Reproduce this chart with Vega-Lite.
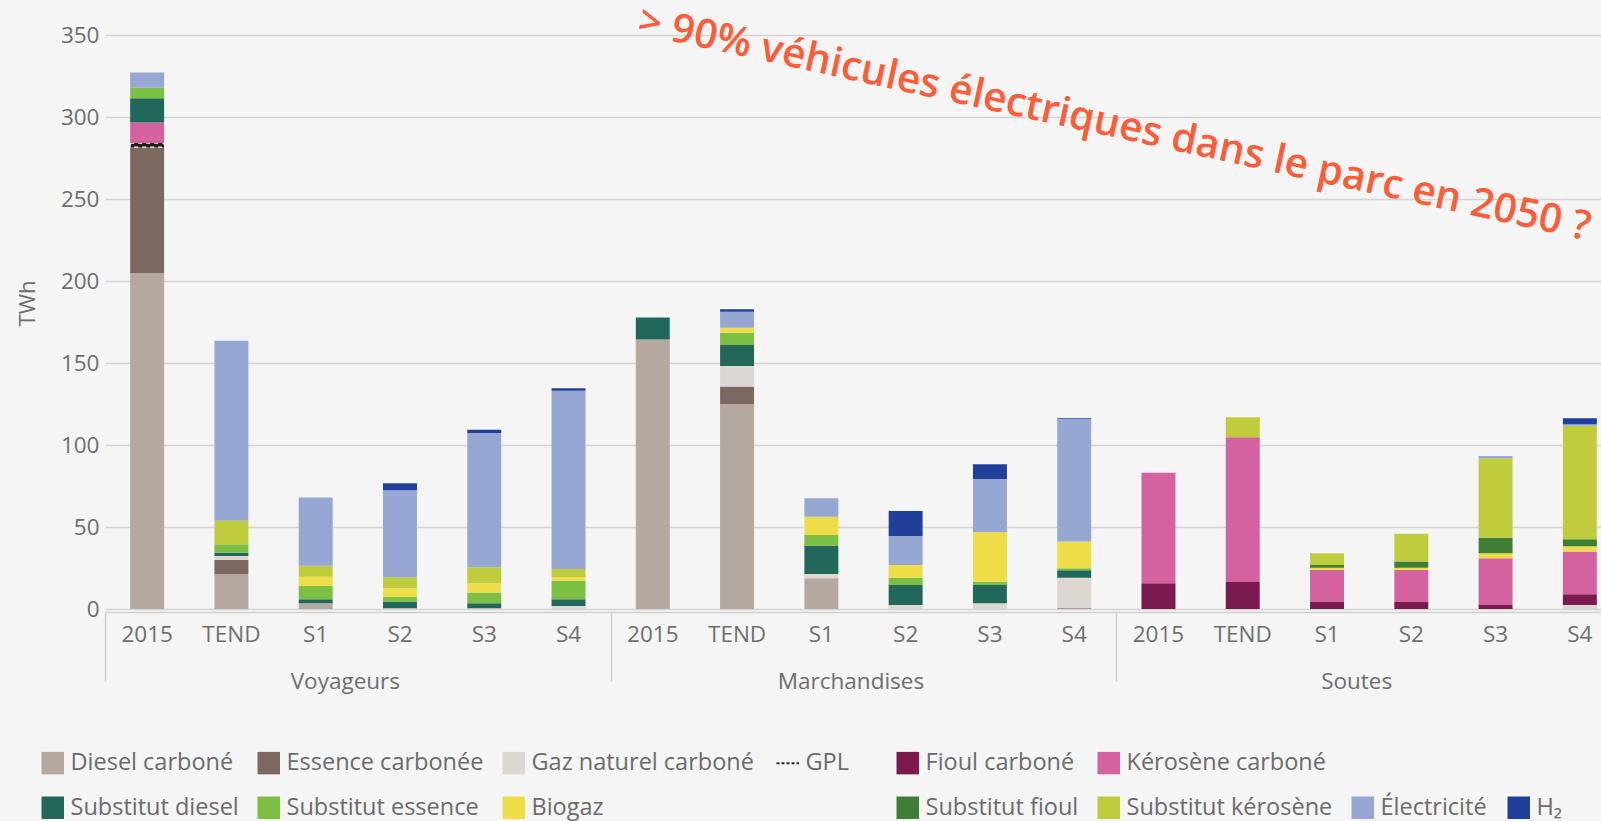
{
  "$schema": "https://vega.github.io/schema/vega-lite/v6.json",
  "width": 1496,
  "height": 574,
  "autosize": {"type": "none"},
  "padding": {"left": 105, "top": 35, "right": 0, "bottom": 212},
  "background": "#f5f5f5",
  "config": {
    "view": {"stroke": null},
    "axis": {"labelFont": "Open Sans", "titleFont": "Open Sans", "labelColor": "#6e6e6e", "titleColor": "#6e6e6e"},
    "legend": {"labelFont": "Open Sans"}
  },
  "data": {
    "values": [
      {"groupe": "Voyageurs", "cle": "Voyageurs|2015", "energie": "Diesel carboné", "twh": 204.7},
      {"groupe": "Voyageurs", "cle": "Voyageurs|2015", "energie": "Essence carbonée", "twh": 76.9},
      {"groupe": "Voyageurs", "cle": "Voyageurs|2015", "energie": "GPL", "twh": 2.5},
      {"groupe": "Voyageurs", "cle": "Voyageurs|2015", "energie": "Kérosène carboné", "twh": 12.5},
      {"groupe": "Voyageurs", "cle": "Voyageurs|2015", "energie": "Substitut diesel", "twh": 14.9},
      {"groupe": "Voyageurs", "cle": "Voyageurs|2015", "energie": "Substitut essence", "twh": 6.3},
      {"groupe": "Voyageurs", "cle": "Voyageurs|2015", "energie": "Électricité", "twh": 9.4},

      {"groupe": "Voyageurs", "cle": "Voyageurs|TEND", "energie": "Diesel carboné", "twh": 21.3},
      {"groupe": "Voyageurs", "cle": "Voyageurs|TEND", "energie": "Essence carbonée", "twh": 8.6},
      {"groupe": "Voyageurs", "cle": "Voyageurs|TEND", "energie": "Gaz naturel carboné", "twh": 2.4},
      {"groupe": "Voyageurs", "cle": "Voyageurs|TEND", "energie": "Substitut diesel", "twh": 2.0},
      {"groupe": "Voyageurs", "cle": "Voyageurs|TEND", "energie": "Substitut essence", "twh": 5.2},
      {"groupe": "Voyageurs", "cle": "Voyageurs|TEND", "energie": "Substitut kérosène", "twh": 14.3},
      {"groupe": "Voyageurs", "cle": "Voyageurs|TEND", "energie": "Électricité", "twh": 109.7},

      {"groupe": "Voyageurs", "cle": "Voyageurs|S1", "energie": "Diesel carboné", "twh": 3.5},
      {"groupe": "Voyageurs", "cle": "Voyageurs|S1", "energie": "Substitut diesel", "twh": 2.4},
      {"groupe": "Voyageurs", "cle": "Voyageurs|S1", "energie": "Substitut essence", "twh": 8.1},
      {"groupe": "Voyageurs", "cle": "Voyageurs|S1", "energie": "Biogaz", "twh": 5.7},
      {"groupe": "Voyageurs", "cle": "Voyageurs|S1", "energie": "Substitut kérosène", "twh": 6.7},
      {"groupe": "Voyageurs", "cle": "Voyageurs|S1", "energie": "Électricité", "twh": 41.6},

      {"groupe": "Voyageurs", "cle": "Voyageurs|S2", "energie": "Gaz naturel carboné", "twh": 0.4},
      {"groupe": "Voyageurs", "cle": "Voyageurs|S2", "energie": "Substitut diesel", "twh": 4.0},
      {"groupe": "Voyageurs", "cle": "Voyageurs|S2", "energie": "Substitut essence", "twh": 3.1},
      {"groupe": "Voyageurs", "cle": "Voyageurs|S2", "energie": "Biogaz", "twh": 5.1},
      {"groupe": "Voyageurs", "cle": "Voyageurs|S2", "energie": "Substitut kérosène", "twh": 6.7},
      {"groupe": "Voyageurs", "cle": "Voyageurs|S2", "energie": "Électricité", "twh": 53.1},
      {"groupe": "Voyageurs", "cle": "Voyageurs|S2", "energie": "H₂", "twh": 4.3},

      {"groupe": "Voyageurs", "cle": "Voyageurs|S3", "energie": "Gaz naturel carboné", "twh": 0.5},
      {"groupe": "Voyageurs", "cle": "Voyageurs|S3", "energie": "Substitut diesel", "twh": 3.0},
      {"groupe": "Voyageurs", "cle": "Voyageurs|S3", "energie": "Substitut essence", "twh": 6.4},
      {"groupe": "Voyageurs", "cle": "Voyageurs|S3", "energie": "Biogaz", "twh": 5.8},
      {"groupe": "Voyageurs", "cle": "Voyageurs|S3", "energie": "Substitut kérosène", "twh": 9.7},
      {"groupe": "Voyageurs", "cle": "Voyageurs|S3", "energie": "Électricité", "twh": 81.9},
      {"groupe": "Voyageurs", "cle": "Voyageurs|S3", "energie": "H₂", "twh": 2.0},

      {"groupe": "Voyageurs", "cle": "Voyageurs|S4", "energie": "Gaz naturel carboné", "twh": 1.8},
      {"groupe": "Voyageurs", "cle": "Voyageurs|S4", "energie": "Substitut diesel", "twh": 4.1},
      {"groupe": "Voyageurs", "cle": "Voyageurs|S4", "energie": "Substitut essence", "twh": 11.4},
      {"groupe": "Voyageurs", "cle": "Voyageurs|S4", "energie": "Biogaz", "twh": 2.0},
      {"groupe": "Voyageurs", "cle": "Voyageurs|S4", "energie": "Substitut kérosène", "twh": 5.1},
      {"groupe": "Voyageurs", "cle": "Voyageurs|S4", "energie": "Électricité", "twh": 108.7},
      {"groupe": "Voyageurs", "cle": "Voyageurs|S4", "energie": "H₂", "twh": 1.5},

      {"groupe": "Marchandises", "cle": "Marchandises|2015", "energie": "Diesel carboné", "twh": 164.4},
      {"groupe": "Marchandises", "cle": "Marchandises|2015", "energie": "Substitut diesel", "twh": 13.4},

      {"groupe": "Marchandises", "cle": "Marchandises|TEND", "energie": "Diesel carboné", "twh": 124.8},
      {"groupe": "Marchandises", "cle": "Marchandises|TEND", "energie": "Essence carbonée", "twh": 10.8},
      {"groupe": "Marchandises", "cle": "Marchandises|TEND", "energie": "Gaz naturel carboné", "twh": 12.6},
      {"groupe": "Marchandises", "cle": "Marchandises|TEND", "energie": "Substitut diesel", "twh": 12.8},
      {"groupe": "Marchandises", "cle": "Marchandises|TEND", "energie": "Substitut essence", "twh": 7.5},
      {"groupe": "Marchandises", "cle": "Marchandises|TEND", "energie": "Biogaz", "twh": 3.0},
      {"groupe": "Marchandises", "cle": "Marchandises|TEND", "energie": "Électricité", "twh": 9.8},
      {"groupe": "Marchandises", "cle": "Marchandises|TEND", "energie": "H₂", "twh": 1.4},

      {"groupe": "Marchandises", "cle": "Marchandises|S1", "energie": "Diesel carboné", "twh": 18.7},
      {"groupe": "Marchandises", "cle": "Marchandises|S1", "energie": "Gaz naturel carboné", "twh": 2.6},
      {"groupe": "Marchandises", "cle": "Marchandises|S1", "energie": "Substitut diesel", "twh": 17.3},
      {"groupe": "Marchandises", "cle": "Marchandises|S1", "energie": "Substitut essence", "twh": 6.5},
      {"groupe": "Marchandises", "cle": "Marchandises|S1", "energie": "Biogaz", "twh": 11.2},
      {"groupe": "Marchandises", "cle": "Marchandises|S1", "energie": "Électricité", "twh": 11.2},

      {"groupe": "Marchandises", "cle": "Marchandises|S2", "energie": "Gaz naturel carboné", "twh": 2.4},
      {"groupe": "Marchandises", "cle": "Marchandises|S2", "energie": "Substitut diesel", "twh": 12.2},
      {"groupe": "Marchandises", "cle": "Marchandises|S2", "energie": "Substitut essence", "twh": 4.5},
      {"groupe": "Marchandises", "cle": "Marchandises|S2", "energie": "Biogaz", "twh": 7.7},
      {"groupe": "Marchandises", "cle": "Marchandises|S2", "energie": "Électricité", "twh": 17.7},
      {"groupe": "Marchandises", "cle": "Marchandises|S2", "energie": "H₂", "twh": 15.3},

      {"groupe": "Marchandises", "cle": "Marchandises|S3", "energie": "Gaz naturel carboné", "twh": 3.5},
      {"groupe": "Marchandises", "cle": "Marchandises|S3", "energie": "Substitut diesel", "twh": 11.1},
      {"groupe": "Marchandises", "cle": "Marchandises|S3", "energie": "Substitut essence", "twh": 2.1},
      {"groupe": "Marchandises", "cle": "Marchandises|S3", "energie": "Biogaz", "twh": 30.1},
      {"groupe": "Marchandises", "cle": "Marchandises|S3", "energie": "Électricité", "twh": 32.5},
      {"groupe": "Marchandises", "cle": "Marchandises|S3", "energie": "H₂", "twh": 8.9},

      {"groupe": "Marchandises", "cle": "Marchandises|S4", "energie": "Essence carbonée", "twh": 0.5},
      {"groupe": "Marchandises", "cle": "Marchandises|S4", "energie": "Gaz naturel carboné", "twh": 18.6},
      {"groupe": "Marchandises", "cle": "Marchandises|S4", "energie": "Substitut diesel", "twh": 4.5},
      {"groupe": "Marchandises", "cle": "Marchandises|S4", "energie": "Substitut essence", "twh": 1.2},
      {"groupe": "Marchandises", "cle": "Marchandises|S4", "energie": "Biogaz", "twh": 16.3},
      {"groupe": "Marchandises", "cle": "Marchandises|S4", "energie": "Électricité", "twh": 74.7},
      {"groupe": "Marchandises", "cle": "Marchandises|S4", "energie": "H₂", "twh": 0.5},

      {"groupe": "Soutes", "cle": "Soutes|2015", "energie": "Fioul carboné", "twh": 15.7},
      {"groupe": "Soutes", "cle": "Soutes|2015", "energie": "Kérosène carboné", "twh": 67.4},

      {"groupe": "Soutes", "cle": "Soutes|TEND", "energie": "Fioul carboné", "twh": 16.5},
      {"groupe": "Soutes", "cle": "Soutes|TEND", "energie": "Kérosène carboné", "twh": 88.2},
      {"groupe": "Soutes", "cle": "Soutes|TEND", "energie": "Substitut kérosène", "twh": 12.2},

      {"groupe": "Soutes", "cle": "Soutes|S1", "energie": "Fioul carboné", "twh": 4.5},
      {"groupe": "Soutes", "cle": "Soutes|S1", "energie": "Kérosène carboné", "twh": 19.3},
      {"groupe": "Soutes", "cle": "Soutes|S1", "energie": "Biogaz", "twh": 1.4},
      {"groupe": "Soutes", "cle": "Soutes|S1", "energie": "Substitut fioul", "twh": 1.6},
      {"groupe": "Soutes", "cle": "Soutes|S1", "energie": "Substitut kérosène", "twh": 7.2},

      {"groupe": "Soutes", "cle": "Soutes|S2", "energie": "Fioul carboné", "twh": 4.5},
      {"groupe": "Soutes", "cle": "Soutes|S2", "energie": "Kérosène carboné", "twh": 19.3},
      {"groupe": "Soutes", "cle": "Soutes|S2", "energie": "Biogaz", "twh": 1.4},
      {"groupe": "Soutes", "cle": "Soutes|S2", "energie": "Substitut fioul", "twh": 3.7},
      {"groupe": "Soutes", "cle": "Soutes|S2", "energie": "Substitut kérosène", "twh": 17.0},

      {"groupe": "Soutes", "cle": "Soutes|S3", "energie": "Fioul carboné", "twh": 2.4},
      {"groupe": "Soutes", "cle": "Soutes|S3", "energie": "Kérosène carboné", "twh": 28.5},
      {"groupe": "Soutes", "cle": "Soutes|S3", "energie": "Biogaz", "twh": 3.1},
      {"groupe": "Soutes", "cle": "Soutes|S3", "energie": "Substitut fioul", "twh": 9.5},
      {"groupe": "Soutes", "cle": "Soutes|S3", "energie": "Substitut kérosène", "twh": 48.4},
      {"groupe": "Soutes", "cle": "Soutes|S3", "energie": "Électricité", "twh": 1.4},

      {"groupe": "Soutes", "cle": "Soutes|S4", "energie": "Gaz naturel carboné", "twh": 2.4},
      {"groupe": "Soutes", "cle": "Soutes|S4", "energie": "Fioul carboné", "twh": 6.6},
      {"groupe": "Soutes", "cle": "Soutes|S4", "energie": "Kérosène carboné", "twh": 26.0},
      {"groupe": "Soutes", "cle": "Soutes|S4", "energie": "Biogaz", "twh": 3.2},
      {"groupe": "Soutes", "cle": "Soutes|S4", "energie": "Substitut fioul", "twh": 4.3},
      {"groupe": "Soutes", "cle": "Soutes|S4", "energie": "Substitut kérosène", "twh": 69.3},
      {"groupe": "Soutes", "cle": "Soutes|S4", "energie": "Électricité", "twh": 0.8},
      {"groupe": "Soutes", "cle": "Soutes|S4", "energie": "H₂", "twh": 3.7}
    ]
  },
  "layer": [
    {
      "layer": [
        {
          "transform": [
            {"calculate": "indexof(['Diesel carboné', 'Essence carbonée', 'Gaz naturel carboné', 'GPL', 'Fioul carboné', 'Kérosène carboné', 'Substitut diesel', 'Substitut essence', 'Biogaz', 'Substitut fioul', 'Substitut kérosène', 'Électricité', 'H₂'], datum.energie)", "as": "rang"}
          ],
          "mark": {
            "type": "bar",
            "stroke": {"expr": "datum.energie === 'GPL' ? '#ffffff' : null"},
            "strokeWidth": {"expr": "datum.energie === 'GPL' ? 1.2 : 0"},
            "strokeDash": {"expr": "datum.energie === 'GPL' ? [4, 4] : [1, 0]"}
          },
          "encoding": {
            "x": {
              "field": "cle",
              "type": "nominal",
              "scale": {
                "domain": ["Voyageurs|2015", "Voyageurs|TEND", "Voyageurs|S1", "Voyageurs|S2", "Voyageurs|S3", "Voyageurs|S4",
                           "Marchandises|2015", "Marchandises|TEND", "Marchandises|S1", "Marchandises|S2", "Marchandises|S3", "Marchandises|S4",
                           "Soutes|2015", "Soutes|TEND", "Soutes|S1", "Soutes|S2", "Soutes|S3", "Soutes|S4"],
                "range": [0, 1517],
                "paddingInner": 0.597,
                "paddingOuter": 0.2985
              },
              "axis": {
                "orient": "bottom",
                "title": null,
                "offset": 3,
                "ticks": false,
                "domain": true,
                "domainColor": "#d0d0d0",
                "domainWidth": 1.5,
                "grid": false,
                "labelAngle": 0,
                "labelExpr": "split(datum.value, '|')[1]",
                "labelPadding": 11,
                "labelFontSize": 22.5
              }
            },
            "y": {
              "field": "twh",
              "type": "quantitative",
              "stack": "zero",
              "scale": {"domain": [0, 350], "nice": false},
              "axis": {
                "title": "TWh",
                "values": [0, 50, 100, 150, 200, 250, 300, 350],
                "grid": true,
                "gridColor": "#d4d4d4",
                "gridWidth": 1.5,
                "domain": false,
                "ticks": false,
                "labelPadding": 6,
                "labelFontSize": 22.5,
                "titleFontSize": 22,
                "titleFontWeight": "normal",
                "titlePadding": 21,
                "titleY": 268
              }
            },
            "order": {"field": "rang", "type": "quantitative", "sort": "ascending"},
            "color": {
              "field": "energie",
              "type": "nominal",
              "scale": {
                "domain": ["Diesel carboné", "Essence carbonée", "Gaz naturel carboné", "GPL", "Fioul carboné", "Kérosène carboné", "\u2800\u2800\u2800\u2800\u2800\u2800", "\u2800",
                           "Substitut diesel", "Substitut essence", "Biogaz", "\u2800\u2800\u2800\u2800", "Substitut fioul", "Substitut kérosène", "Électricité", "H₂"],
                "range": ["#b5a89f", "#7b6960", "#ddd7d1", "#1e1e1e", "#7a1a4f", "#d4629f", "transparent", "transparent",
                          "#21685a", "#7cbf43", "#efdd47", "transparent", "#3f7f35", "#bfcd3c", "#95a7d2", "#203f98"]
              },
              "legend": {
                "orient": "none",
                "legendX": -64,
                "legendY": 716,
                "direction": "horizontal",
                "columns": 8,
                "title": null,
                "padding": 0,
                "symbolType": "square",
                "symbolSize": 506,
                "symbolStrokeWidth": 0,
                "labelFontSize": 23.5,
                "labelColor": "#6b6b6b",
                "labelOffset": 6,
                "labelLimit": 400,
                "columnPadding": 18,
                "rowPadding": 20,
                "encoding": {
                  "symbols": {
                    "shape": {"value": {"expr": "datum.value === 'GPL' ? 'M-1,0H1' : 'square'"}},
                    "stroke": {"value": {"expr": "datum.value === 'GPL' ? '#2a2a2a' : 'transparent'"}},
                    "strokeWidth": {"value": {"expr": "datum.value === 'GPL' ? 2 : 0"}},
                    "strokeDash": {"value": {"expr": "datum.value === 'GPL' ? [3, 2] : [1, 0]"}}
                  }
                }
              }
            }
          }
        },
        {
          "data": {"values": [{"note": "> 90% véhicules électriques dans le parc en 2050 ?"}]},
          "mark": {"type": "text", "align": "left", "baseline": "alphabetic", "angle": 12.3, "font": "Open Sans", "fontWeight": 600, "fontSize": 40.5, "color": "#fe5c38", "dx": -17},
          "encoding": {
            "x": {"datum": "Marchandises|2015", "type": "nominal"},
            "y": {"datum": 349, "type": "quantitative"},
            "text": {"field": "note"}
          }
        }
      ]
    },
    {
      "mark": {"type": "point", "opacity": 0},
      "encoding": {
        "x": {
          "field": "groupe",
          "type": "nominal",
          "scale": {"domain": ["Voyageurs", "Marchandises", "Soutes"], "range": [0, 1517], "paddingInner": 0, "paddingOuter": 0},
          "axis": {
            "orient": "bottom",
            "title": null,
            "offset": 3,
            "domain": false,
            "ticks": true,
            "tickBand": "extent",
            "tickSize": 69,
            "tickColor": "#d0d0d0",
            "tickWidth": 1.5,
            "grid": false,
            "labelAngle": 0,
            "labelOffset": -13,
            "labelPadding": -11,
            "labelFontSize": 22.5
          }
        }
      }
    }
  ],
  "resolve": {"scale": {"x": "independent"}, "axis": {"x": "independent"}}
}
